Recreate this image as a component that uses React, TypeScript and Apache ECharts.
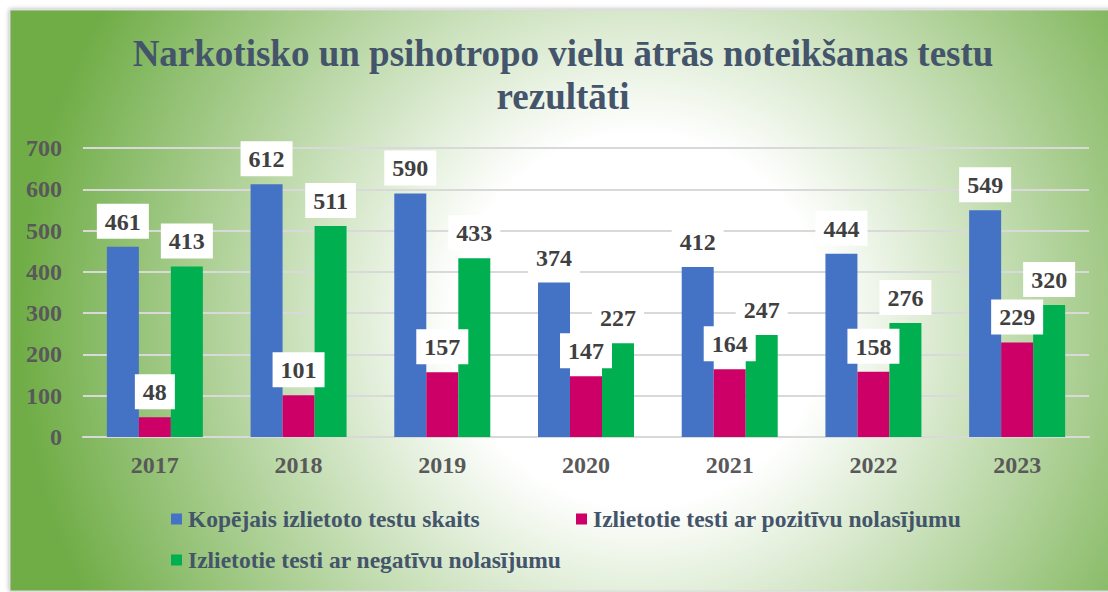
import React, { useEffect, useRef } from "react";
import * as echarts from "echarts";

const years = ["2017", "2018", "2019", "2020", "2021", "2022", "2023"];
const totalTests = [461, 612, 590, 374, 412, 444, 549];
const positiveTests = [48, 101, 157, 147, 164, 158, 229];
const negativeTests = [413, 511, 433, 227, 247, 276, 320];
const seriesNames = [
  "Kopējais izlietoto testu skaits",
  "Izlietotie testi ar pozitīvu nolasījumu",
  "Izlietotie testi ar negatīvu nolasījumu",
];
const titleLines = ["Narkotisko un psihotropo vielu ātrās noteikšanas testu", "rezultāti"];
const colors = ["#4472C4", "#CC0066", "#00B050"];

const FONT = "'Liberation Serif', 'Times New Roman', serif";

export default function App() {
  const ref = useRef<HTMLDivElement>(null);
  useEffect(() => {
    document.body.style.margin = "0";
    if (!ref.current) return;
    const chart = echarts.init(ref.current, undefined, { renderer: "svg" });
    const label = {
      show: true,
      position: "top",
      distance: 8,
      color: "#404040",
      fontFamily: FONT,
      fontWeight: "bold",
      fontSize: 24,
      backgroundColor: "#FFFFFF",
      padding: [6, 8, 5, 8],
    };
    const legendBase = {
      itemWidth: 11,
      itemHeight: 11,
      icon: "rect",
      textStyle: {
        color: "#44546A",
        fontFamily: FONT,
        fontWeight: "bold",
        fontSize: 23.5,
        padding: [0, 0, 0, 1],
      },
    };
    chart.setOption({
      animation: false,
      backgroundColor: "#FFFFFF",
      graphic: [
        {
          type: "rect",
          z: -10,
          silent: true,
          shape: { x: 10, y: 10, width: 1110, height: 581 },
          style: {
            fill: {
              type: "radial",
              x: 640,
              y: 320,
              r: 620,
              global: true,
              colorStops: [
                { offset: 0, color: "#FFFFFF" },
                { offset: 0.3, color: "#FFFFFF" },
                { offset: 1, color: "#70AD47" },
              ],
            },
            stroke: "#D8D8D8",
            lineWidth: 1,
            shadowBlur: 5,
            shadowColor: "rgba(0,0,0,0.35)",
          },
        },
        {
          type: "text",
          x: 563,
          y: 53,
          style: {
            text: titleLines[0],
            textAlign: "center",
            textVerticalAlign: "middle",
            fill: "#44546A",
            font: `bold 37px ${FONT}`,
          },
        },
        {
          type: "text",
          x: 563,
          y: 96,
          style: {
            text: titleLines[1],
            textAlign: "center",
            textVerticalAlign: "middle",
            fill: "#44546A",
            font: `bold 37px ${FONT}`,
          },
        },
      ],
      legend: [
        { ...legendBase, left: 166, top: 502, data: [seriesNames[0]] },
        { ...legendBase, left: 571, top: 502, data: [seriesNames[1]] },
        { ...legendBase, left: 166, top: 543, data: [seriesNames[2]] },
      ],
      grid: { left: 83, right: 19, top: 148, bottom: 155 },
      xAxis: {
        type: "category",
        data: years,
        axisLine: { show: true, lineStyle: { color: "#D9D9D9", width: 2 } },
        axisTick: { show: false },
        axisLabel: {
          color: "#595959",
          fontFamily: FONT,
          fontWeight: "bold",
          fontSize: 24,
          margin: 16,
        },
      },
      yAxis: {
        type: "value",
        min: 0,
        max: 700,
        interval: 100,
        axisLine: { show: false },
        axisTick: { show: false },
        splitLine: { lineStyle: { color: "#D9D9D9", width: 2 } },
        axisLabel: {
          color: "#595959",
          fontFamily: FONT,
          fontWeight: "bold",
          fontSize: 24,
          margin: 21,
        },
      },
      series: [totalTests, positiveTests, negativeTests].map((d, i) => ({
        name: seriesNames[i],
        type: "bar",
        data: d,
        barWidth: 32,
        barGap: "0%",
        itemStyle: { color: colors[i] },
        label,
      })),
    });
    return () => chart.dispose();
  }, []);
  return <div ref={ref} style={{ width: 1108, height: 592 }} />;
}
